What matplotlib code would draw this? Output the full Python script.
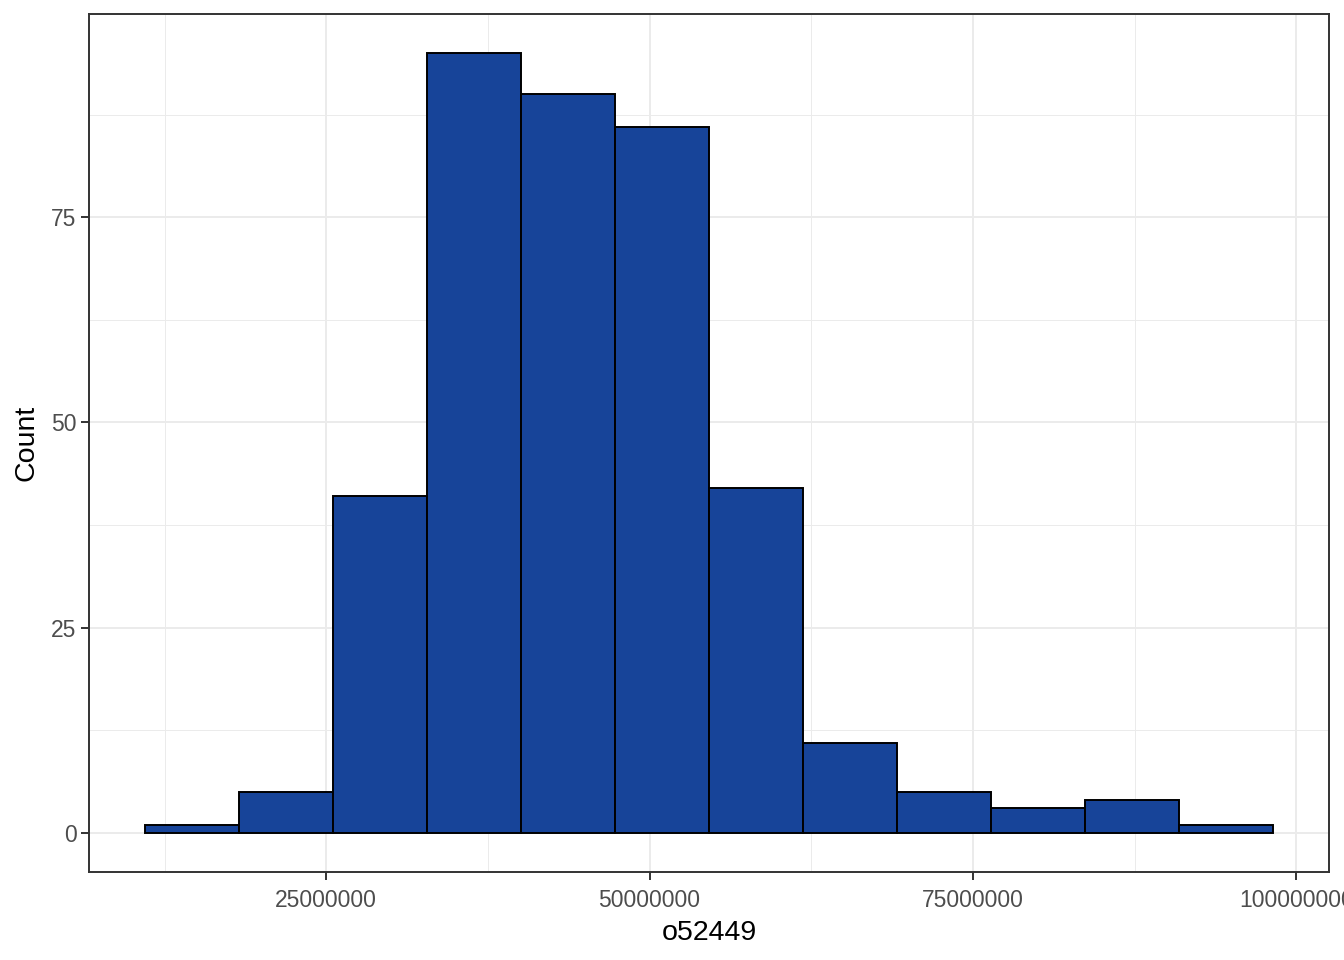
import matplotlib
matplotlib.use("Agg")
import matplotlib.pyplot as plt
import numpy as np
from matplotlib.ticker import FixedLocator

plt.rcParams['font.family'] = ['Liberation Sans', 'DejaVu Sans']

# Data
bin_edges = [11.01e6, 18.27e6, 25.54e6, 32.80e6, 40.07e6, 47.33e6, 54.59e6,
             61.86e6, 69.12e6, 76.39e6, 83.65e6, 90.91e6, 98.18e6]
counts = [1, 5, 41, 95, 90, 86, 42, 11, 5, 3, 4, 1]
x_ticks = [25000000, 50000000, 75000000, 100000000]
x_tick_labels = ["25000000", "50000000", "75000000", "100000000"]
y_ticks = [0, 25, 50, 75]
x_label = "o52449"
y_label = "Count"

fig = plt.figure(figsize=(13.44, 9.6), dpi=100)
ax = fig.add_axes([89/1344, 88/960, (1329-89)/1344, (872-14)/960])

edges = np.array(bin_edges)
widths = np.diff(edges)
ax.bar(edges[:-1], counts, width=widths, align='edge', color='#174499',
       edgecolor='black', linewidth=1.4, zorder=3)

xmin, xmax = edges[0], edges[-1]
xr = xmax - xmin
ax.set_xlim(xmin - 0.05 * xr, xmax + 0.05 * xr)
ymax = max(counts)
ax.set_ylim(-0.05 * ymax, ymax * 1.05)

ax.set_xticks(x_ticks)
ax.set_xticklabels(x_tick_labels)
ax.set_yticks(y_ticks)
ax.xaxis.set_minor_locator(FixedLocator([12.5e6, 37.5e6, 62.5e6, 87.5e6]))
ax.yaxis.set_minor_locator(FixedLocator([12.5, 37.5, 62.5, 87.5]))

ax.grid(which='major', color='#EBEBEB', linewidth=1.4, zorder=0)
ax.grid(which='minor', color='#EBEBEB', linewidth=0.7, zorder=0)
ax.set_axisbelow(True)

for s in ax.spines.values():
    s.set_color('#333333')
    s.set_linewidth(1.4)

ax.tick_params(which='major', length=6, width=1.4, color='#333333',
               labelsize=16.5, labelcolor='#4D4D4D', pad=3)
ax.tick_params(axis='x', which='major', pad=6)
ax.tick_params(which='minor', length=0)

ax.set_xlabel(x_label, fontsize=20.5, color='black', labelpad=6)
ax.set_ylabel(y_label, fontsize=20.5, color='black', labelpad=8)

fig.savefig("out.png", dpi=100)
